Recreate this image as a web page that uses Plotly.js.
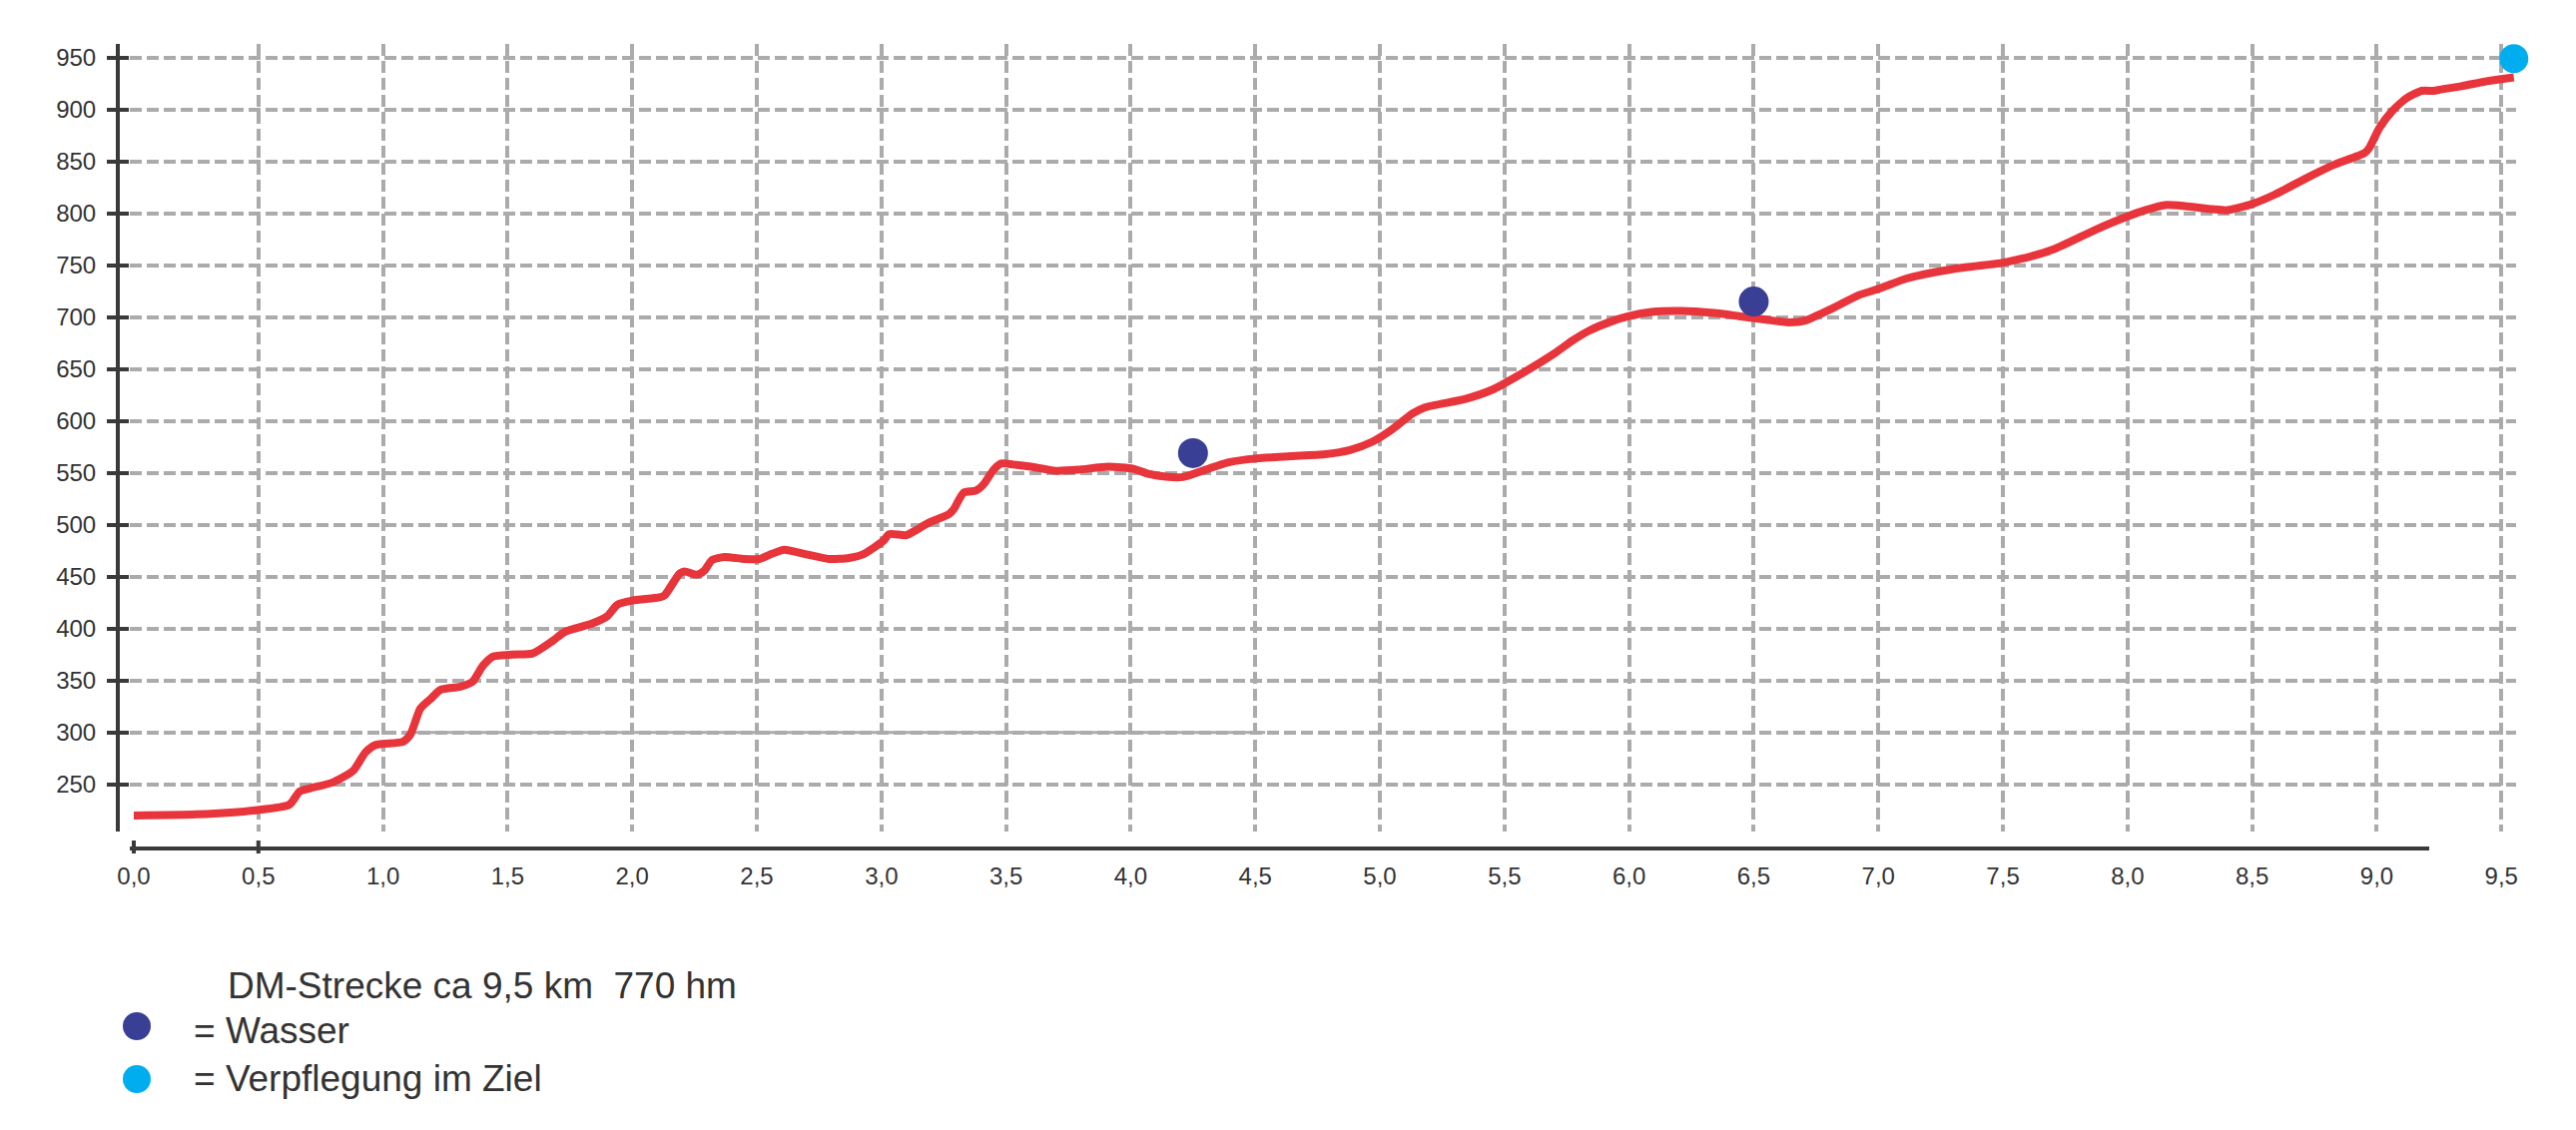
<!DOCTYPE html>
<html>
<head>
<meta charset="utf-8">
<script src="https://cdn.plot.ly/plotly-3.0.1.min.js"></script>
<style>html,body{margin:0;padding:0;background:#fff;}#chart{width:2580px;height:1132px;}</style>
</head>
<body>
<div id="chart"></div>
<script>
// ---- data ----
const distanceKm = [0.00,0.25,0.49,0.625,0.665,0.705,0.80,0.88,0.93,0.97,1.08,1.11,1.15,1.19,1.23,1.31,1.36,1.40,1.44,1.52,1.60,1.68,1.73,1.84,1.90,1.94,2.00,2.11,2.13,2.19,2.21,2.26,2.29,2.32,2.37,2.45,2.51,2.56,2.61,2.69,2.79,2.87,2.93,3.01,3.03,3.10,3.14,3.19,3.27,3.29,3.33,3.38,3.41,3.45,3.48,3.53,3.60,3.70,3.79,3.91,4.01,4.07,4.15,4.21,4.30,4.39,4.51,4.64,4.78,4.88,4.97,5.05,5.13,5.18,5.34,5.45,5.55,5.70,5.77,5.84,5.93,6.00,6.09,6.21,6.34,6.44,6.55,6.64,6.71,6.82,6.92,7.01,7.11,7.22,7.35,7.49,7.57,7.70,7.87,8.00,8.07,8.15,8.23,8.34,8.40,8.50,8.59,8.73,8.83,8.95,8.97,9.01,9.06,9.12,9.18,9.23,9.25,9.34,9.45,9.55];
const elevationM = [220,221,225,230.5,243,246,252,263,281,288,291,298,323,332,341,344,349,364,373,375,376,388,397,405,412,423,427,430,432,453,455,452,456,466,469,467,467,472,476,472,467,468,472,485,491,490,495,502,510,515,531,533,539,553,559,558,556,552,553,556,554,549,546,546,553,560,564,566,568,572,580,592,607,613,621,630,643,665,677,687,696,701,705,706,704,701,697.5,695,697,709,721,728,737,743,748,752,756,765,784,797,803,808,807,804,803,809,818,835.5,847,858,863,882,898,911,918,918,919,922.5,927.6,931];

const wasserKm = [4.25, 6.50];
const wasserM = [569, 715];
const zielKm = [9.55];
const zielM = [949];

const xTickVals = [0,0.5,1,1.5,2,2.5,3,3.5,4,4.5,5,5.5,6,6.5,7,7.5,8,8.5,9,9.5];
const xTickLabels = ['0,0','0,5','1,0','1,5','2,0','2,5','3,0','3,5','4,0','4,5','5,0','5,5','6,0','6,5','7,0','7,5','8,0','8,5','9,0','9,5'];
const xGridVals = xTickVals.slice(1);
const xAxisTickMarks = [0, 0.5];
const yTickVals = [250,300,350,400,450,500,550,600,650,700,750,800,850,900,950];
const yTickLabels = yTickVals.map(String);

const legendTitle = 'DM-Strecke ca 9,5 km  770 hm';
const legendWasser = '= Wasser';
const legendZiel = '= Verpflegung im Ziel';

// ---- styles ----
const W = 2580, H = 1132;
const RED = '#e8343b', NAVY = '#383f95', CYAN = '#00aeef';
const AXIS = '#3a3a3a', GRID = '#ababab', TXT = '#333333';
const FONT = 'Liberation Sans, Arial, Helvetica, sans-serif';
const px = v => v / W, py = v => (H - v) / H;

const traces = [
  {x: distanceKm, y: elevationM, type: 'scatter', mode: 'lines', xaxis: 'x', yaxis: 'y',
   line: {color: RED, width: 8, shape: 'spline', smoothing: 0.6}, hoverinfo: 'x+y', showlegend: false},
  {x: wasserKm, y: wasserM, type: 'scatter', mode: 'markers', name: 'Wasser', cliponaxis: false,
   marker: {color: NAVY, size: 30}, showlegend: false},
  {x: zielKm, y: zielM, type: 'scatter', mode: 'markers', name: 'Verpflegung im Ziel', cliponaxis: false,
   marker: {color: CYAN, size: 29}, showlegend: false}
];

const shapes = [
  // solid stretch of the 300 gridline
  {type: 'line', xref: 'x', yref: 'y', x0: 1.08, x1: 4.54, y0: 300, y1: 300, layer: 'between',
   line: {color: GRID, width: 3}},
  // x axis baseline
  {type: 'line', xref: 'paper', yref: 'paper', x0: px(130), x1: px(2433), y0: py(850), y1: py(850),
   layer: 'above', line: {color: AXIS, width: 4}},
  // legend dots
  {type: 'circle', xref: 'paper', yref: 'paper', xsizemode: 'pixel', ysizemode: 'pixel',
   xanchor: px(137), yanchor: py(1028), x0: -14, x1: 14, y0: -14, y1: 14,
   fillcolor: NAVY, line: {width: 0}},
  {type: 'circle', xref: 'paper', yref: 'paper', xsizemode: 'pixel', ysizemode: 'pixel',
   xanchor: px(137), yanchor: py(1081), x0: -14, x1: 14, y0: -14, y1: 14,
   fillcolor: CYAN, line: {width: 0}}
];
xAxisTickMarks.forEach(t => shapes.push({type: 'line', xref: 'x', yref: 'paper', x0: t, x1: t,
  y0: py(855), y1: py(842), layer: 'above', line: {color: AXIS, width: 4}}));

const annotations = [
  {text: legendTitle, xref: 'paper', yref: 'paper', x: px(226), y: py(987), xanchor: 'left', yanchor: 'middle',
   showarrow: false, font: {family: FONT, size: 37, color: TXT}},
  {text: legendWasser, xref: 'paper', yref: 'paper', x: px(192), y: py(1032), xanchor: 'left', yanchor: 'middle',
   showarrow: false, font: {family: FONT, size: 37, color: TXT}},
  {text: legendZiel, xref: 'paper', yref: 'paper', x: px(192), y: py(1080), xanchor: 'left', yanchor: 'middle',
   showarrow: false, font: {family: FONT, size: 37, color: TXT}}
];

const xRange = [-0.016, 9.559];
const yRange = [204.5, 963.2];

const layout = {
  width: W, height: H,
  margin: {l: 0, r: 0, t: 0, b: 0, pad: 0},
  paper_bgcolor: '#ffffff', plot_bgcolor: '#ffffff',
  showlegend: false,
  font: {family: FONT, color: TXT},
  xaxis: {domain: [px(130), px(2520)], range: xRange, anchor: 'y',
    tickmode: 'array', tickvals: xGridVals, showticklabels: false, ticks: '',
    showgrid: true, gridcolor: GRID, gridwidth: 4, griddash: '12px,5px',
    showline: false, zeroline: false, fixedrange: true},
  xaxis2: {overlaying: 'x', matches: 'x', anchor: 'free', position: py(850), side: 'bottom',
    tickmode: 'array', tickvals: xTickVals, ticktext: xTickLabels,
    ticks: 'outside', ticklen: 6, tickcolor: 'rgba(0,0,0,0)',
    tickfont: {family: FONT, size: 24, color: TXT},
    showgrid: false, showline: false, zeroline: false},
  yaxis: {domain: [py(833), py(44)], range: yRange, anchor: 'free', position: px(118),
    tickmode: 'array', tickvals: yTickVals, ticktext: yTickLabels,
    ticks: 'outside', ticklen: 9, tickwidth: 4, tickcolor: AXIS, ticklabelstandoff: 6,
    tickfont: {family: FONT, size: 24, color: TXT},
    showline: true, linewidth: 4, linecolor: AXIS,
    showgrid: true, gridcolor: GRID, gridwidth: 4, griddash: '12px,5px',
    zeroline: false, fixedrange: true},
  yaxis2: {overlaying: 'y', matches: 'y', anchor: 'free', position: px(118),
    tickmode: 'array', tickvals: yTickVals, ticks: 'inside', ticklen: 10, tickwidth: 4, tickcolor: AXIS,
    showticklabels: false, showgrid: false, showline: false, zeroline: false},
  shapes: shapes,
  annotations: annotations
};

// invisible helper traces so the overlay axes are drawn
traces.push({x: [xRange[0]], y: [yRange[0]], xaxis: 'x2', yaxis: 'y', type: 'scatter', mode: 'markers',
  marker: {opacity: 0}, hoverinfo: 'skip', showlegend: false});
traces.push({x: [xRange[0]], y: [yRange[0]], xaxis: 'x', yaxis: 'y2', type: 'scatter', mode: 'markers',
  marker: {opacity: 0}, hoverinfo: 'skip', showlegend: false});

Plotly.newPlot('chart', traces, layout, {displayModeBar: false, staticPlot: true});
</script>
</body>
</html>
